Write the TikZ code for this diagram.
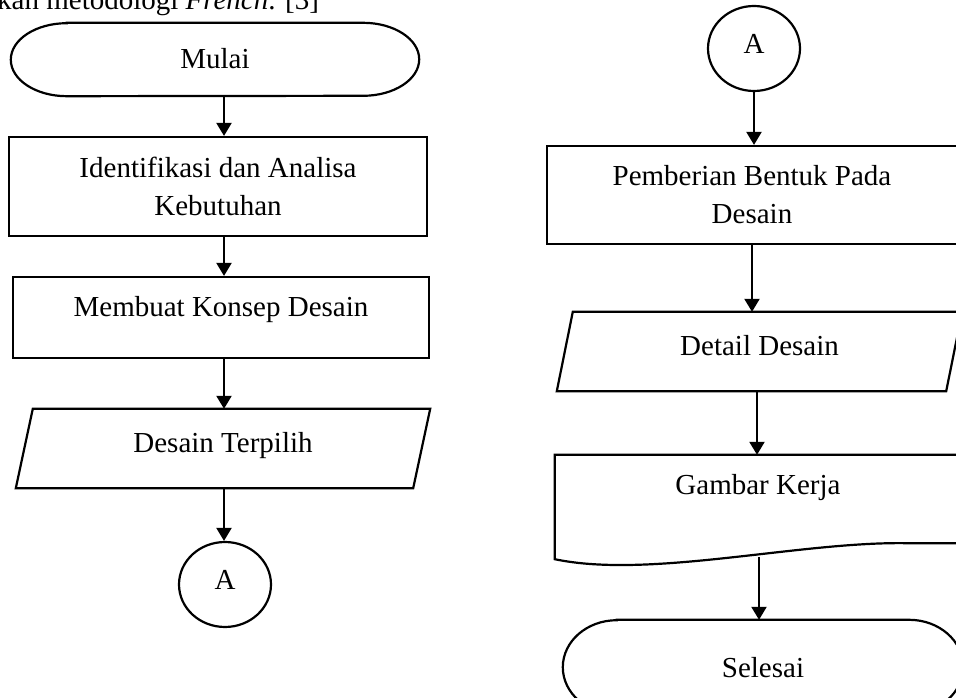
\documentclass[tikz,border=0pt]{standalone}
\usepackage{fontspec}
\setmainfont{Liberation Serif}
\usepackage{tikz}
\usetikzlibrary{arrows.meta,shapes.geometric}

\tikzset{
  every node/.style={font=\fontsize{29}{38}\selectfont,inner sep=0pt},
  process/.style={draw,line width=2.2pt,align=center},
  hull/.style={align=center},
  connector/.style={draw,ellipse,line width=2.2pt,
    minimum width=92pt,minimum height=85pt,text height=20pt,text depth=10pt},
  outline/.style={line width=2.2pt},
  flow/.style={line width=2.2pt,-{Triangle[length=13pt,width=15pt]}}
}
% terminal: node, x radius, y radius of the ends
\newcommand{\terminalline}[3]{%
  \draw[outline]([xshift=#2pt]#1.north west)--([xshift=-#2pt]#1.north east)
    arc[start angle=90,end angle=-90,x radius=#2,y radius=#3]
    --([xshift=#2pt]#1.south west)
    arc[start angle=270,end angle=90,x radius=#2,y radius=#3]--cycle;}
% data: node, half slant
\newcommand{\dataline}[2]{%
  \draw[outline]([xshift=#2pt]#1.north west)--([xshift=#2pt]#1.north east)
    --([xshift=-#2pt]#1.south east)--([xshift=-#2pt]#1.south west)--cycle;}

\begin{document}
\begin{tikzpicture}[x=1pt,y=1pt]
  \useasboundingbox(0,0)rectangle(956,697);
  \clip(0,0)rectangle(956,697);
  \coordinate(colL)at(224,0);
  \node[anchor=base west](intro)at(-3,687){kan metodologi \textit{French}. [3]};

  % left column
  \node[hull,minimum width=408pt,minimum height=73pt,text height=20pt,text depth=1pt]
    (mulai)at(215,637.5){Mulai};
  \terminalline{mulai}{56}{36.5}
  \node[process,minimum width=418pt,minimum height=99pt]
    (ident)at(218,510.5){Identifikasi dan Analisa\\Kebutuhan};
  \node[process,minimum width=416pt,minimum height=81pt,text height=20pt,text depth=21pt]
    (konsep)at(221,379.5){Membuat Konsep Desain};
  \node[hull,minimum width=397pt,minimum height=79pt,text height=20pt,text depth=11pt]
    (pilih)at(223,248.5){Desain Terpilih};
  \dataline{pilih}{8.5}
  \node[connector](aout)at(225,112.5){A};

  \draw[flow](mulai.south-|colL)--(ident.north-|colL);
  \draw[flow](ident.south-|colL)--(konsep.north-|colL);
  \draw[flow](konsep.south-|colL)--(pilih.north-|colL);
  \draw[flow](pilih.south-|colL)--(aout.north-|colL);

  % right column
  \node[connector](ain)at(754,648.5){A};
  \node[process,minimum width=410pt,minimum height=98pt]
    (bentuk)at(752,502){Pemberian Bentuk Pada\\Desain};
  \node[hull,minimum width=389pt,minimum height=79pt,text height=20pt,text depth=11pt]
    (detail)at(759.5,345.5){Detail Desain};
  \dataline{detail}{8}
  \node[hull,minimum width=406pt,minimum height=90pt,text height=20pt,text depth=32pt]
    (gambar)at(758,197){Gambar Kerja};
  \draw[outline]([yshift=2pt]gambar.south east)--(gambar.north east)
    --(gambar.north west)--([yshift=-14pt]gambar.south west)
    ..controls([xshift=95pt,yshift=-34pt]gambar.south west)
      and([xshift=-161pt,yshift=4pt]gambar.south east)
    ..([xshift=-54pt,yshift=2pt]gambar.south east)--cycle;
  \coordinate(dout)at([xshift=-2.5pt]detail.south);
  \coordinate(gout)at([xshift=1pt,yshift=-12pt]gambar.south);
  \node[hull,minimum width=400pt,minimum height=94pt,text height=20pt,text depth=0pt]
    (selesai)at(763,30){Selesai};
  \terminalline{selesai}{54}{47}

  \draw[flow](ain.south)--(ain.south|-bentuk.north);
  \draw[flow](bentuk.south)--(bentuk.south|-detail.north);
  \draw[flow](dout)--(dout|-gambar.north);
  \draw[flow](gout)--(gout|-selesai.north);
\end{tikzpicture}
\end{document}
